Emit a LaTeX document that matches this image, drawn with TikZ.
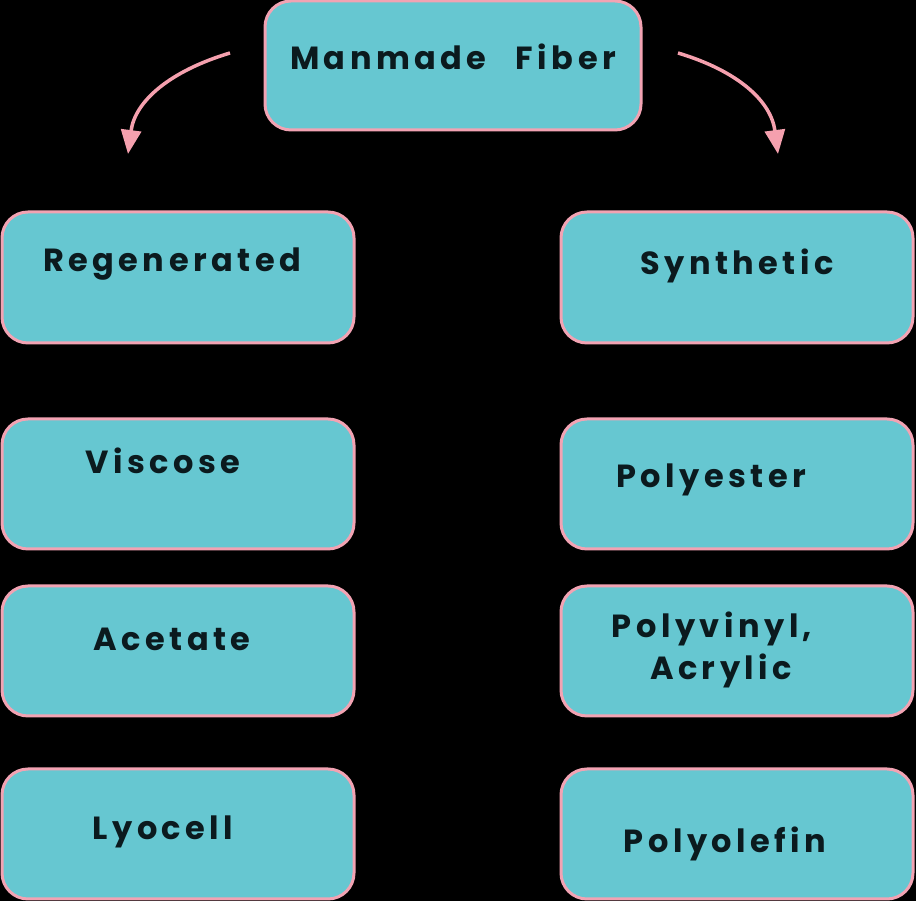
\documentclass[tikz,border=0pt]{standalone}
\usepackage{fontspec}
\setmainfont{Poppins}[LetterSpace=14,WordSpace=2.6]
\usetikzlibrary{arrows.meta}
\definecolor{boxfill}{HTML}{66C7D1}
\definecolor{boxline}{HTML}{F2A3B3}
\definecolor{arrowpink}{HTML}{F5A0AE}
\definecolor{txt}{HTML}{0B1A1E}
\tikzset{
  fbox/.style={draw=boxline, fill=boxfill, line width=3pt, rounded corners=26pt, inner sep=0pt},
  lbl/.style={anchor=base, text=txt, font=\fontsize{32}{38}\selectfont\bfseries, inner sep=0pt, align=center},
  curvearrow/.style={draw=arrowpink, line width=3.5pt, -{Triangle[length=24pt,width=20pt]}}
}
\begin{document}
\begin{tikzpicture}[x=1pt,y=1pt]
\fill[black] (0,0) rectangle (916,901);
\useasboundingbox (0,0) rectangle (916,901);
% boxes
\node[fbox, minimum width=376pt, minimum height=129pt] (top) at (453,835.5) {};
\node[fbox, minimum width=352pt, minimum height=131pt] (regen) at (178,623.5) {};
\node[fbox, minimum width=352pt, minimum height=131pt] (synth) at (737,623.5) {};
\node[fbox, minimum width=352pt, minimum height=130pt] (visc) at (178,417) {};
\node[fbox, minimum width=352pt, minimum height=130pt] (poly) at (737,417) {};
\node[fbox, minimum width=352pt, minimum height=130pt] (acet) at (178,250) {};
\node[fbox, minimum width=352pt, minimum height=130pt] (vinyl) at (737,250) {};
\node[fbox, minimum width=352pt, minimum height=130pt] (lyo) at (178,67) {};
\node[fbox, minimum width=352pt, minimum height=130pt] (olef) at (737,67) {};
% labels
\node[lbl] (ttop) at (453,831) {Manmade Fiber};
\node[lbl] (tregen) at (172,629) {Regenerated};
\node[lbl] (tsynth) at (737,626) {Synthetic};
\node[lbl] (tvisc) at (163,427) {Viscose};
\node[lbl] (tpoly) at (711,413) {Polyester};
\node[lbl] (tacet) at (172,250) {Acetate};
\node[lbl] (tvinyl) at (712,263) {Polyvinyl,};
\node[lbl] (tacry) at (721,221) {Acrylic};
\node[lbl] (tlyo) at (163,61) {Lyocell};
\node[lbl] (tolef) at (725,48) {Polyolefin};
% arrows
\coordinate (ls) at (230,848);
\coordinate (le) at (128,747);
\coordinate (rs) at (678,848);
\coordinate (re) at (778,747);
\draw[curvearrow] (ls) .. controls (170,830) and (135,800) .. (le);
\draw[curvearrow] (rs) .. controls (738,830) and (771,800) .. (re);
\end{tikzpicture}
\end{document}
